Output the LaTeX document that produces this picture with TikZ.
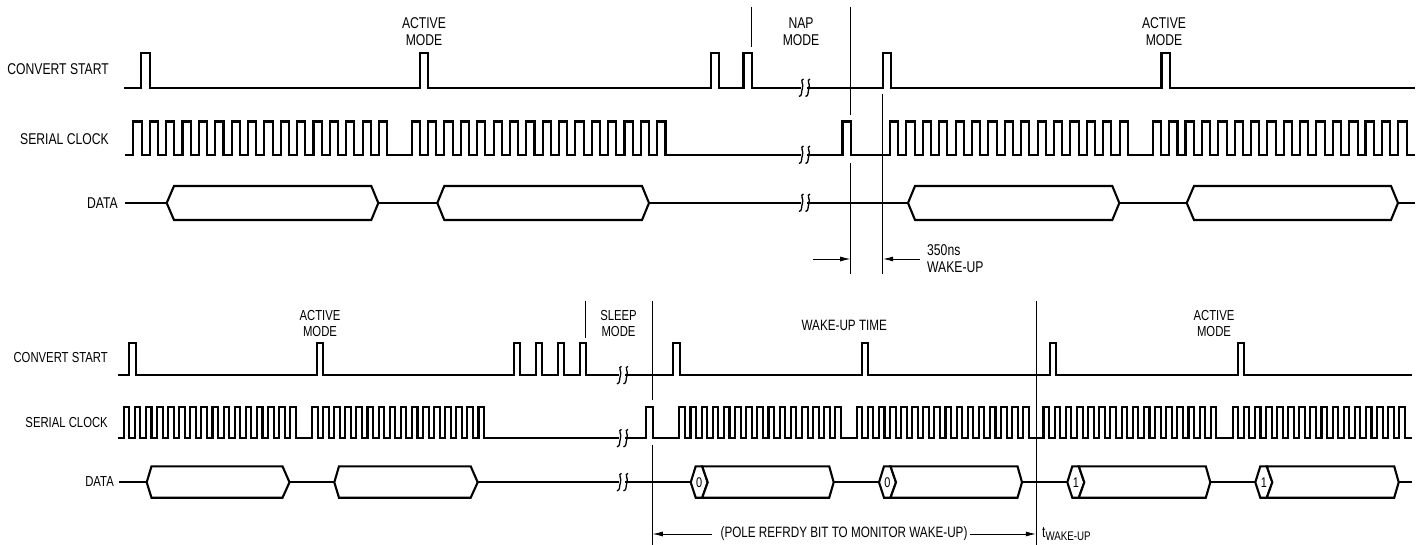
\documentclass[tikz,border=0pt]{standalone}
\usepackage{fontspec}
\setmainfont{Liberation Sans}
\newfontfamily\lbl[FakeStretch=0.78]{Liberation Sans}
\usetikzlibrary{arrows.meta}
\tikzset{
  sig/.style={line width=2.1pt,line join=miter,black},
  marker/.style={line width=0.9pt,black},
  dimarrow/.style={line width=0.8pt,black,-{Latex[length=10pt,width=5pt]}},
  txt/.style={inner sep=0pt,align=center,font=\lbl\fontsize{15.6}{16.8}\selectfont,text=black},
  txts/.style={txt,font=\lbl\fontsize{14.5}{16}\selectfont},
  txtm/.style={txt,font=\lbl\fontsize{15}{16}\selectfont},
  txtl/.style={txt,anchor=west,align=left},
  txtr/.style={txt,anchor=east,align=right},
  txtsr/.style={txts,anchor=east,align=right},
  brkline/.style={line width=1.3pt,black}
}
% pulse train on the current path: start, period, width, count, low y, height
\newcommand\trn[6]{foreach \k in {1,...,#4} {-- ({#1+#2*(\k-1)},#5) -- ++(0,-#6) -- ++(#3,0) -- ++(0,#6)}}
% data bus hexagon
\newcommand\hex[6]{\draw[sig,fill=white] (#1,#4) -- (#2,#5) -- (#3-7,#5) -- (#3,#4) -- (#3-7,#6) -- (#2,#6) -- cycle;}
% small bit hexagon with the bus behind it
\newcommand\bit[7]{%
  \draw[sig,fill=white] (#1,#5) -- (#1+5,#6) -- (#3-5.5,#6) -- (#3,#5) -- (#3-5.5,#7) -- (#1+5,#7) -- cycle;
  \draw[sig,fill=white] (#3-5.5,#6) -- (#4-4.5,#6) -- (#4,#5) -- (#4-4.5,#7) -- (#3-5.5,#7) -- (#3,#5) -- cycle;
  \node[txt,font=\lbl\fontsize{14}{14}\selectfont] (b#1) at ({#1+(#3-#1)/2},#5) {#2};}
% break mark
\newcommand\brk[2]{%
  \fill[white] (#1-3,#2-3) rectangle (#1+3,#2+3);
  \draw[brkline] (#1-0.5,#2-9) .. controls (#1-4.5,#2-8) and (#1,#2-4) .. (#1-1.5,#2)
     .. controls (#1-3,#2+4) and (#1-1.5,#2+8) .. (#1-5,#2+8.5);
  \draw[brkline] (#1+6,#2-9) .. controls (#1+2,#2-8) and (#1+6.5,#2-4) .. (#1+5,#2)
     .. controls (#1+3.5,#2+4) and (#1+5,#2+8) .. (#1+1.5,#2+8.5);}
\begin{document}
\begin{tikzpicture}[x=1pt,y=-1pt]
\useasboundingbox (0,0) rectangle (1424,545);
\fill[white] (0,0) rectangle (1424,545);

% ---------- upper diagram ----------
\draw[sig] (124,88)
  \trn{141}{0}{8.7}{1}{88}{35}
  \trn{419.7}{0}{8.5}{1}{88}{35}
  \trn{711}{32.5}{8.3}{2}{88}{35}
  \trn{882.6}{0}{8.7}{1}{88}{35}
  \trn{1161.5}{0}{8.5}{1}{88}{35}
  -- (1415,88);
\draw[sig] (125,155)
  \trn{133.4}{16.37}{8.2}{16}{155}{33.5}
  \trn{411.7}{16.37}{8.2}{16}{155}{33.5}
  \trn{842.5}{0}{8.5}{1}{155}{33.5}
  \trn{890}{16.4}{8.2}{15}{155}{33.5}
  \trn{1152.7}{16.37}{8.4}{16}{155}{33.5}
  -- (1415,155);
\draw[sig] (125,203) -- (1415,203);
\hex{166.7}{174}{378.3}{203}{186}{220}
\hex{437.3}{444.3}{649}{203}{186}{220}
\hex{908}{915}{1119.3}{203}{186}{220}
\hex{1186.7}{1194}{1398}{203}{186}{220}
\brk{804}{88}\brk{804}{155}\brk{804}{203}

\coordinate (a1) at (751.7,7);   \coordinate (a2) at (751.7,47);
\coordinate (b1) at (850.7,7);   \coordinate (b2) at (850.7,115);
\coordinate (b3) at (850.7,163); \coordinate (b4) at (850.7,274);
\coordinate (c1) at (882.7,94);  \coordinate (c2) at (882.7,274);
\coordinate (d1) at (813,259);   \coordinate (d2) at (850.2,259);
\coordinate (e1) at (920,259);   \coordinate (e2) at (883.2,259);
\draw[marker] (a1) -- (a2);
\draw[marker] (b1) -- (b2);
\draw[marker] (b3) -- (b4);
\draw[marker] (c1) -- (c2);
\draw[dimarrow] (d1) -- (d2);
\draw[dimarrow] (e1) -- (e2);

\node[txtr] (l1) at (109,69) {CONVERT START};
\node[txtr] (l2) at (109,139) {SERIAL CLOCK};
\node[txtr] (l3) at (118,203) {DATA};
\node[txt] (m1) at (424,32) {ACTIVE\\MODE};
\node[txt] (m2) at (801,32) {NAP\\MODE};
\node[txt] (m3) at (1164,32) {ACTIVE\\MODE};
\node[txtl] (w1) at (927,259) {350ns\\WAKE-UP};

% ---------- lower diagram ----------
\draw[sig] (118,375.3)
  \trn{129.2}{0}{6.4}{1}{375.3}{32}
  \trn{317}{0}{6.4}{1}{375.3}{32}
  \trn{513.8}{22}{6.4}{4}{375.3}{32}
  \trn{673.4}{0}{6.6}{1}{375.3}{32}
  \trn{861.7}{0}{6.6}{1}{375.3}{32}
  \trn{1049.7}{0}{6.6}{1}{375.3}{32}
  \trn{1237.7}{0}{6.6}{1}{375.3}{32}
  -- (1411.7,375.3);
\draw[sig] (118,438.3)
  \trn{123.7}{11.1}{5.6}{16}{438.3}{31.6}
  \trn{312}{11.1}{5.6}{16}{438.3}{31.6}
  \trn{646.2}{0}{7}{1}{438.3}{31.6}
  \trn{679.3}{11.15}{5.6}{15}{438.3}{31.6}
  \trn{856.7}{11.1}{5.6}{16}{438.3}{31.6}
  \trn{1043.5}{11.15}{5.6}{16}{438.3}{31.6}
  \trn{1232.7}{11.1}{5.6}{16}{438.3}{31.6}
  -- (1411.7,438.3);
\draw[sig] (119,482.3) -- (1411.7,482.3);
\hex{146.7}{151.5}{289.5}{482.3}{466.3}{497.7}
\hex{334.3}{339}{477.7}{482.3}{466.3}{497.7}
\bit{690.7}{0}{707.7}{833.7}{482.3}{466.3}{497.7}
\bit{879}{0}{896}{1022}{482.3}{466.3}{497.7}
\bit{1067.3}{1}{1084.3}{1210.3}{482.3}{466.3}{497.7}
\bit{1255.3}{1}{1272.3}{1398.7}{482.3}{466.3}{497.7}
\brk{622}{375.3}\brk{622}{438.3}\brk{622}{482.3}

\coordinate (f1) at (585.7,301);  \coordinate (f2) at (585.7,337.7);
\coordinate (g1) at (652.3,301);  \coordinate (g2) at (652.3,400);
\coordinate (g3) at (652.3,445);  \coordinate (g4) at (652.3,545);
\coordinate (h1) at (1036.3,301); \coordinate (h2) at (1036.3,545);
\coordinate (i2) at (652.8,534);  \coordinate (j2) at (1035.8,534);
\draw[marker] (f1) -- (f2);
\draw[marker] (g1) -- (g2);
\draw[marker] (g3) -- (g4);
\draw[marker] (h1) -- (h2);

\node[txtsr] (l4) at (108,358) {CONVERT START};
\node[txtsr] (l5) at (108,423) {SERIAL CLOCK};
\node[txtsr] (l6) at (114,482) {DATA};
\node[txts] (m4) at (320,324) {ACTIVE\\MODE};
\node[txts] (m5) at (618.5,324) {SLEEP\\MODE};
\node[txtm] (m6) at (844.3,325) {WAKE-UP TIME};
\node[txts] (m7) at (1214,324) {ACTIVE\\MODE};
\node[txtm] (p) at (844,534) {(POLE REFRDY BIT TO MONITOR WAKE-UP)};
\node[txtl] (t) at (1042,534) {t\raisebox{-2.5pt}{\fontsize{12.5}{13}\selectfont WAKE-UP}};
\draw[dimarrow] (p.west) ++(-8,0) -- (i2);
\draw[dimarrow] (p.east) ++(2,0) -- (j2);
\end{tikzpicture}
\end{document}
